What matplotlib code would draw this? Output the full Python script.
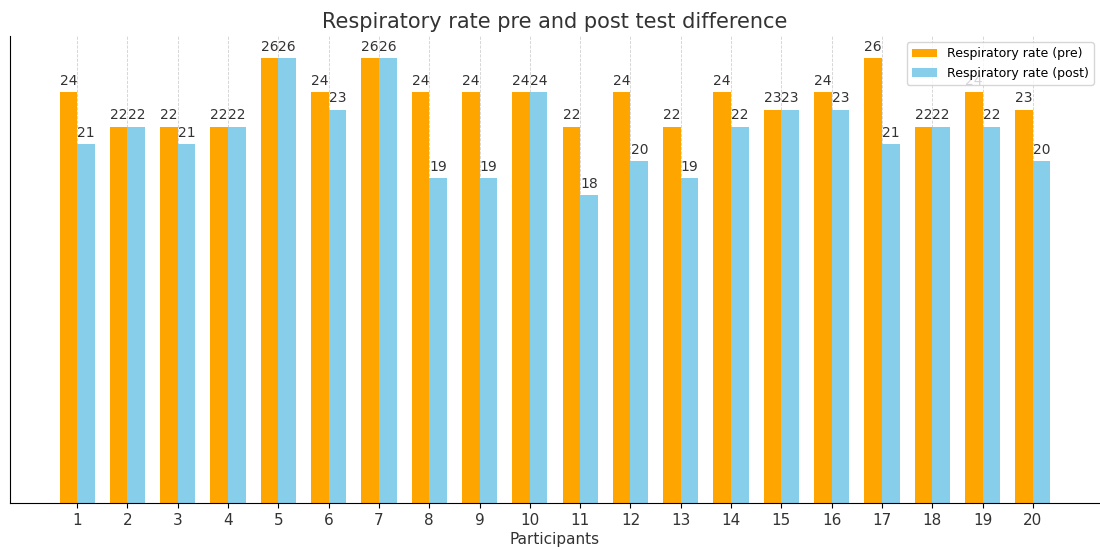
import matplotlib
matplotlib.use("Agg")
import matplotlib.pyplot as plt
import numpy as np

participants = list(range(1, 21))
pre = [24, 22, 22, 22, 26, 24, 26, 24, 24, 24, 22, 24, 22, 24, 23, 24, 26, 22, 24, 23]
post = [21, 22, 21, 22, 26, 23, 26, 19, 19, 24, 18, 20, 19, 22, 23, 23, 21, 22, 22, 20]

fig = plt.figure(figsize=(11, 5.47), dpi=100)
ax = fig.add_axes([10/1100, 1-503/547, 1090/1100, (503-36)/547])

x = np.array(participants)
w = 0.35
b1 = ax.bar(x - w/2, pre, w, color='orange', label='Respiratory rate (pre)', zorder=2)
b2 = ax.bar(x + w/2, post, w, color='skyblue', label='Respiratory rate (post)', zorder=2)

for bars in (b1, b2):
    for r in bars:
        h = r.get_height()
        ax.annotate(f'{h}', xy=(r.get_x() + r.get_width()/2, h), xytext=(0, 3),
                    textcoords='offset points', ha='center', va='bottom',
                    fontsize=10, color='#333333')

ax.set_xticks(x)
ax.set_xticklabels([str(p) for p in participants], fontsize=11, color='#333333')
ax.set_yticks([])
ax.set_xlabel('Participants', fontsize=11, color='#333333', labelpad=3)
ax.set_title('Respiratory rate pre and post test difference', fontsize=15, color='#333333', pad=6)
ax.spines['top'].set_visible(False)
ax.spines['right'].set_visible(False)
ax.grid(axis='x', linestyle='--', color='#bbbbbb', linewidth=0.6, alpha=0.7, zorder=0)
leg = ax.legend(loc='upper right', fontsize=9)
leg.set_zorder(5)

fig.savefig('out.png', dpi=100)
